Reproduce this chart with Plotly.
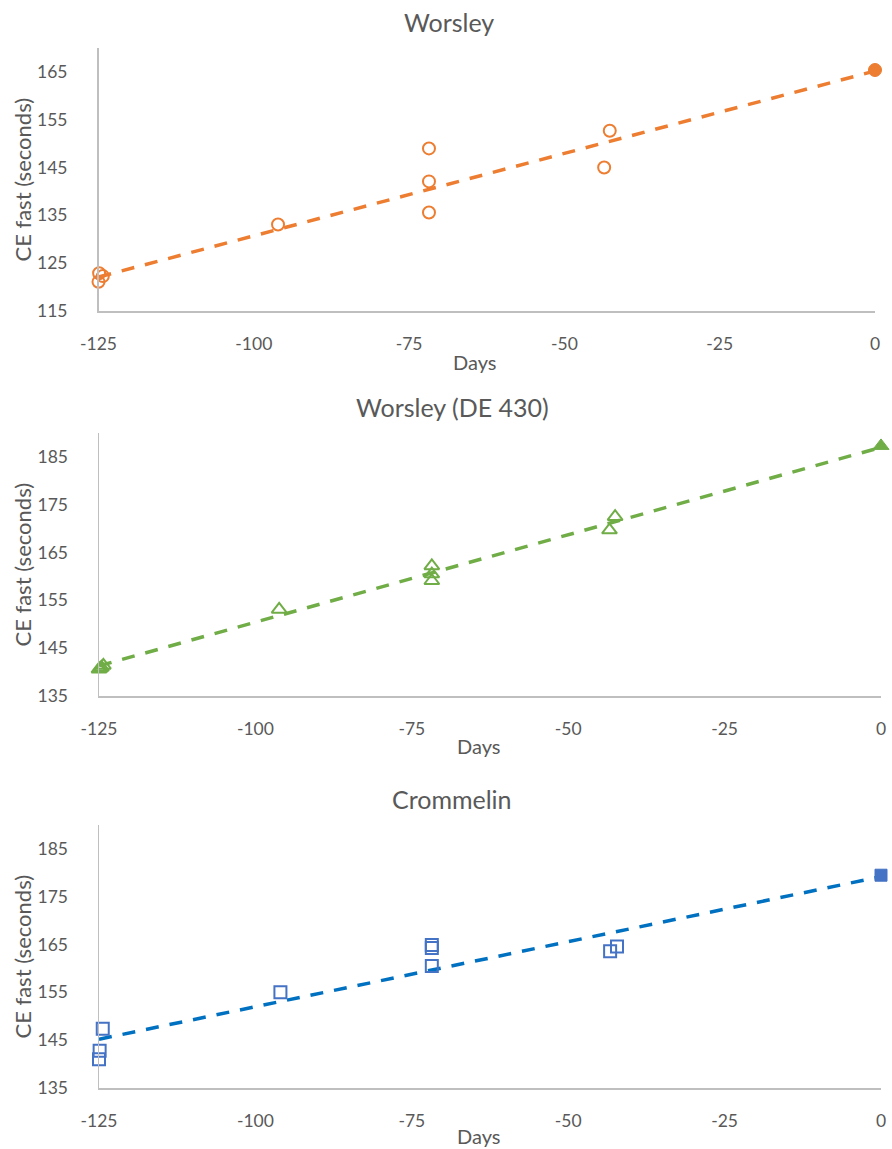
import plotly.graph_objects as go

# ---------------- data ----------------
# Worsley
w_days = [-124.9, -124.3, -125.0, -125.1, -96.1, -71.8, -71.8, -71.8, -43.6, -42.7]
w_vals = [122.9, 122.3, 121.1, 120.4, 133.1, 149.0, 142.1, 135.6, 145.0, 152.7]
w_now_day = [0]
w_now_val = [165.4]
w_trend_days = [-125, 0]
w_trend_vals = [122.1, 165.2]

# Worsley (DE 430)
d_days = [-125.0, -124.6, -124.8, -124.3, -96.2, -71.8, -71.8, -71.8, -43.4, -42.5]
d_vals = [140.6, 141.0, 140.8, 141.4, 153.1, 162.2, 160.5, 159.1, 169.7, 172.5]
d_now_day = [0]
d_now_val = [187.3]
d_trend_days = [-125, 0]
d_trend_vals = [141.3, 187.0]

# Crommelin
c_days = [-124.4, -124.9, -125.0, -96.0, -71.8, -71.8, -71.8, -43.3, -42.2]
c_vals = [147.4, 142.8, 141.0, 155.0, 164.9, 164.3, 160.5, 163.6, 164.6]
c_now_day = [0]
c_now_val = [179.5]
c_trend_days = [-125, 0]
c_trend_vals = [145.2, 179.2]

x_ticks = [-125, -100, -75, -50, -25, 0]
titles = ["Worsley", "Worsley (DE 430)", "Crommelin"]
y_title = "CE fast (seconds)"
x_title = "Days"

# ---------------- layout helpers ----------------
W, H = 892, 1149
FONT = "Lato, Carlito, Calibri, sans-serif"
TXT = "#595959"
AX = "#BFBFBF"

def px_x(p):
    return p / W

def px_y(p):
    return 1 - p / H

panels = [
    dict(x0=98.5, x1=875, y0=48, y1=311, yr=[115, 170], yt=[115, 125, 135, 145, 155, 165], xt=362),
    dict(x0=99, x1=881, y0=433, y1=696, yr=[135, 190], yt=[135, 145, 155, 165, 175, 185], xt=746),
    dict(x0=99, x1=881, y0=825, y1=1088, yr=[135, 190], yt=[135, 145, 155, 165, 175, 185], xt=1136),
]

series = [
    (w_days, w_vals, w_now_day, w_now_val, w_trend_days, w_trend_vals,
     "#ED7D31", "#ED7D31", "circle-open", "circle", 12, 13),
    (d_days, d_vals, d_now_day, d_now_val, d_trend_days, d_trend_vals,
     "#70AD47", "#70AD47", "triangle-up-open", "triangle-up", 13, 14),
    (c_days, c_vals, c_now_day, c_now_val, c_trend_days, c_trend_vals,
     "#4472C4", "#0070C0", "square-open", "square", 12, 12),
]

fig = go.Figure()
annotations = []

for i, (p, s) in enumerate(zip(panels, series)):
    xa = "x" if i == 0 else f"x{i+1}"
    ya = "y" if i == 0 else f"y{i+1}"
    days, vals, nd, nv, td, tv, mcol, lcol, sym_o, sym_f, ms, msf = s

    fig.add_trace(go.Scatter(
        x=td, y=tv, mode="lines", xaxis=xa, yaxis=ya,
        line=dict(color=lcol, width=3.5, dash="13px,11px"),
        hoverinfo="skip", showlegend=False))
    fig.add_trace(go.Scatter(
        x=days, y=vals, mode="markers", xaxis=xa, yaxis=ya, cliponaxis=False,
        marker=dict(symbol=sym_o, size=ms, color=mcol, line=dict(width=2, color=mcol)),
        showlegend=False))
    fig.add_trace(go.Scatter(
        x=nd, y=nv, mode="markers", xaxis=xa, yaxis=ya, cliponaxis=False,
        marker=dict(symbol=sym_f, size=msf, color=mcol, line=dict(width=1, color=mcol)),
        showlegend=False))

    xkey = "xaxis" if i == 0 else f"xaxis{i+1}"
    ykey = "yaxis" if i == 0 else f"yaxis{i+1}"
    fig.layout[xkey] = dict(
        domain=[px_x(p["x0"]), px_x(p["x1"])], anchor=ya, range=[-125, 0],
        tickvals=x_ticks, ticktext=[str(t) for t in x_ticks], automargin=False,
        showgrid=False, zeroline=False, showline=True, linecolor=AX, linewidth=1.5,
        ticks="outside", ticklen=16, tickcolor="rgba(0,0,0,0)",
        tickfont=dict(family=FONT, size=17.5, color=TXT), fixedrange=True)
    fig.layout[ykey] = dict(
        domain=[px_y(p["y1"]), px_y(p["y0"])], anchor=xa, range=p["yr"],
        tickvals=p["yt"], showgrid=False, zeroline=False, showline=True,
        linecolor=AX, linewidth=1.5, automargin=False,
        ticks="outside", ticklen=26, tickcolor="rgba(0,0,0,0)",
        tickfont=dict(family=FONT, size=17.5, color=TXT), fixedrange=True)

    cx = (p["x0"] + p["x1"]) / 2
    annotations.append(dict(
        text=titles[i], x=px_x(cx - 38), y=px_y(p["y0"] - 26), xref="paper", yref="paper",
        xanchor="center", yanchor="middle", showarrow=False,
        font=dict(family=FONT, size=25, color=TXT)))
    annotations.append(dict(
        text=x_title, x=px_x(cx - 12), y=px_y(p["xt"]), xref="paper", yref="paper",
        xanchor="center", yanchor="middle", showarrow=False,
        font=dict(family=FONT, size=20, color=TXT)))
    annotations.append(dict(
        text=y_title, x=px_x(22), y=px_y((p["y0"] + p["y1"]) / 2), xref="paper", yref="paper",
        xanchor="center", yanchor="middle", showarrow=False, textangle=-90,
        font=dict(family=FONT, size=22, color=TXT)))

fig.update_layout(
    width=W, height=H, margin=dict(l=0, r=0, t=0, b=0),
    paper_bgcolor="white", plot_bgcolor="white",
    annotations=annotations, showlegend=False)

fig.write_html(
    "out.html",
    config={"displayModeBar": False, "staticPlot": True},
    post_script="document.body.style.margin='0';document.body.style.overflow='hidden';")
